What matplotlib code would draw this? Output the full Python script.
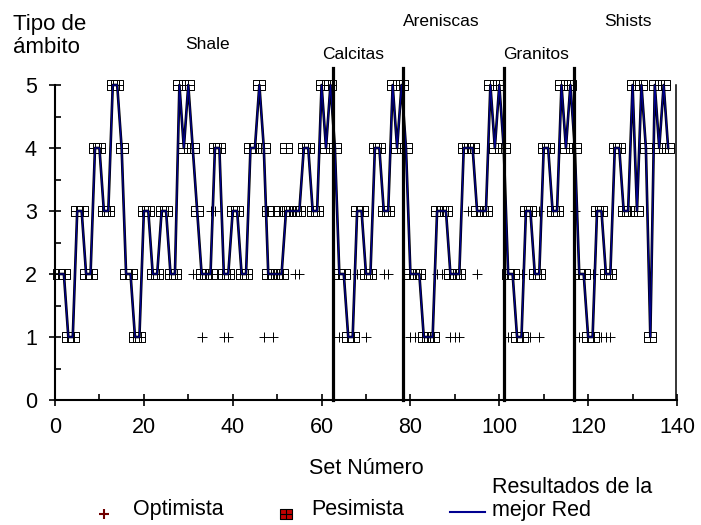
import matplotlib
matplotlib.use('Agg')
import matplotlib.pyplot as plt
from matplotlib.path import Path
from matplotlib.lines import Line2D

plt.rcParams['font.family'] = ['Liberation Sans', 'DejaVu Sans']

# numero de set (1..138)
sets = list(range(1, 139))
# tipo de ambito (linea negra con marcadores)
tipo = [2, 2, 1, 1, 3, 3, 2, 2, 4, 4, 3, 3, 5, 5, 4, 2, 2, 1, 1, 3,
        3, 2, 2, 3, 3, 2, 2, 5, 4, 5, 4, 3, 2, 2, 2, 4, 4, 2, 2, 3,
        3, 2, 2, 4, 4, 5, 4, 2, 2, 2, 2, 3, 3, 3, 3, 4, 4, 3, 3, 5,
        4, 5, 4, 2, 2, 1, 1, 3, 3, 2, 2, 4, 4, 3, 3, 5, 4, 5, 4, 2,
        2, 2, 1, 1, 1, 3, 3, 3, 2, 2, 2, 4, 4, 4, 3, 3, 3, 5, 4, 5,
        4, 2, 2, 1, 1, 3, 3, 2, 2, 4, 4, 3, 3, 5, 4, 5, 4, 2, 2, 1,
        1, 3, 3, 2, 2, 4, 4, 3, 3, 5, 3, 5, 4, 1, 5, 4, 5, 4]
# resultados de la mejor red (coincide con la linea negra)
mejor_red = list(tipo)
# pesimista fuera de la linea
pes_x = [48, 49, 52]
pes_y = [3, 3, 4]
# optimista visibles
opt_x = [33, 38, 39, 47, 49, 64, 70, 80, 81, 89, 90, 91, 102, 107, 109, 118, 123, 124, 125,
         31, 54, 55, 68, 74, 75, 86, 87, 95, 105, 121,
         35, 36, 51, 93, 109, 117]
opt_y = [1, 1, 1, 1, 1, 1, 1, 1, 1, 1, 1, 1, 1, 1, 1, 1, 1, 1, 1,
         2, 2, 2, 2, 2, 2, 2, 2, 2, 2, 2,
         3, 3, 3, 3, 3, 3]
# divisiones entre rocas
limites = [62.6, 78.4, 101, 116.8]
rocas = ['Shale', 'Calcitas', 'Areniscas', 'Granitos', 'Shists']
rocas_x = [34.3, 67, 87, 108.2, 128.9]
rocas_y = [5.64, 5.48, 6.0, 5.48, 6.0]

M, L = Path.MOVETO, Path.LINETO
caja = Path([(-1.25, -1), (1.25, -1), (1.25, 1), (-1.25, 1), (-1.25, -1),
             (0, -1), (0, 1), (-1.25, 0), (1.25, 0)],
            [M, L, L, L, L, M, L, M, L])

W, H = 701, 525
fig = plt.figure(figsize=(7.01, 5.25), dpi=100)
ax = fig.add_axes([55/W, 1-400/H, 622/W, 315/H])

ax.plot(sets, tipo, color='black', lw=1.9, zorder=3,
        marker=caja, ms=8.5, mec='black', mew=0.7, mfc='none', clip_on=False)
ax.plot(sets, mejor_red, color='#000090', lw=0.9, zorder=4, clip_on=False)
ax.plot(pes_x, pes_y, ls='none', marker=caja, ms=8.5, mec='black', mew=0.7,
        mfc='none', zorder=3)
ax.plot(opt_x, opt_y, ls='none', marker='+', ms=7, mec='black', mew=0.7, zorder=3)

for xv in limites:
    ax.plot([xv, xv], [0, 5.27], color='black', lw=2.3, zorder=5, clip_on=False)
ax.plot([139.7, 139.7], [0, 5], color='black', lw=1.1, zorder=5, clip_on=False)

for t, xv, yv in zip(rocas, rocas_x, rocas_y):
    ax.text(xv, yv, t, ha='center', va='center', fontsize=12.5)

ax.set_xlim(0, 140)
ax.set_ylim(0, 5)
ax.set_xticks(range(0, 141, 20))
ax.set_xticks(range(10, 141, 20), minor=True)
ax.set_yticks(range(0, 6))
ax.set_yticks([0.5, 1.5, 2.5, 3.5, 4.5], minor=True)
ax.tick_params(which='major', direction='inout', length=8, width=1.2, labelsize=15.5)
ax.tick_params(axis='x', which='major', pad=8)
ax.tick_params(axis='y', which='major', pad=9)
ax.tick_params(which='minor', direction='in', length=4, width=1.2)
for s in ['top', 'right']:
    ax.spines[s].set_visible(False)
for s in ['left', 'bottom']:
    ax.spines[s].set_linewidth(1.5)
ax.set_xlabel('Set Número', fontsize=15.5, labelpad=15)

fig.text(13/W, 1-36/H, 'Tipo de\námbito', fontsize=16, ha='left', va='center',
         linespacing=1.1)

# leyenda abajo, al estilo de la original
fs = 15.5
fig.add_artist(Line2D([104/W], [1-514/H], ls='none', marker='+', ms=7,
                      mec='#700000', mew=1.5))
fig.text(133/W, 1-515/H, 'Optimista', fontsize=fs, va='baseline')
fig.add_artist(Line2D([286/W], [1-514/H], ls='none', marker=caja, ms=8.5,
                      mec='black', mfc='#c00000', mew=0.8))
fig.text(311/W, 1-515/H, 'Pesimista', fontsize=fs, va='baseline')
fig.add_artist(Line2D([450/W, 485/W], [1-512/H, 1-512/H], color='#000090', lw=1.5))
fig.text(492/W, 1-516/H, 'Resultados de la\nmejor Red', fontsize=fs, va='baseline',
         linespacing=1.15)

fig.savefig('out.png', dpi=100)
